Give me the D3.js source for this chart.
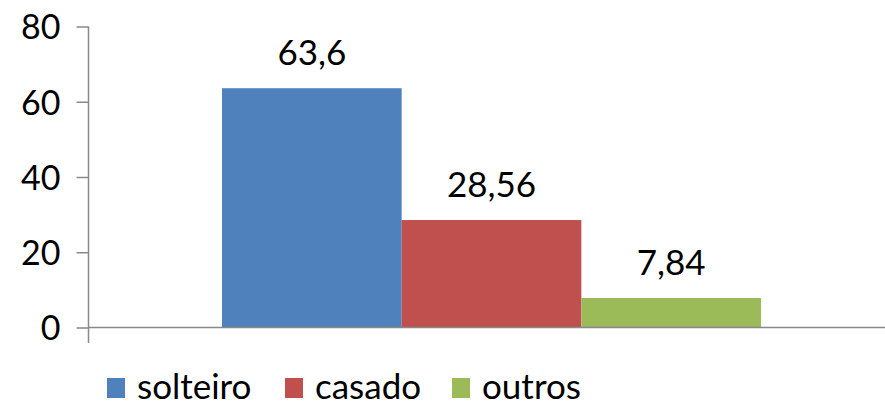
<!DOCTYPE html>
<html>
<head>
<meta charset="utf-8">
<script src="https://cdn.jsdelivr.net/npm/d3@7"></script>
<style>
  body { margin: 0; background: #fff; }
  text { font-family: Lato, "Open Sans", sans-serif; fill: #000; }
</style>
</head>
<body>
<svg id="chart" width="885" height="405"></svg>
<script>
// data
var categories = ['solteiro', 'casado', 'outros']
var values = [63.6, 28.56, 7.84]
var valueLabels = ['63,6', '28,56', '7,84']
var colors = ['#4f81bd', '#c0504d', '#9bbb59']
var yTicks = [0, 20, 40, 60, 80]

var svg = d3.select('#chart')

var x = d3.scaleBand().domain(categories).range([222, 761]).padding(0)
var y = d3.scaleLinear().domain([0, 80]).range([327.5, 26.5])

// y axis
var yAxis = d3.axisLeft(y).tickValues(yTicks).tickSize(12).tickPadding(16)
var gy = svg.append('g').attr('transform', 'translate(88.5,0)').call(yAxis)
gy.select('.domain').remove()
gy.selectAll('line').attr('stroke', '#898989').attr('stroke-width', 1.5)
gy.selectAll('text').style('font-size', '34px').attr('dy', '0.36em')

svg.append('line')
    .attr('x1', 88.5).attr('x2', 88.5)
    .attr('y1', y(80)).attr('y2', 343)
    .attr('stroke', '#898989').attr('stroke-width', 1.5)

// bars
svg.selectAll('rect.bar').data(values).enter().append('rect')
    .attr('class', 'bar')
    .attr('x', (d, i) => x(categories[i]))
    .attr('width', x.bandwidth())
    .attr('y', d => y(d))
    .attr('height', d => y(0) - y(d))
    .attr('fill', (d, i) => colors[i])

// x axis line
svg.append('line')
    .attr('x1', 88).attr('x2', 885)
    .attr('y1', y(0)).attr('y2', y(0))
    .attr('stroke', '#898989').attr('stroke-width', 1.5)

// value labels
svg.selectAll('text.val').data(values).enter().append('text')
    .attr('class', 'val')
    .attr('x', (d, i) => x(categories[i]) + x.bandwidth() / 2)
    .attr('y', d => y(d) - 23)
    .attr('text-anchor', 'middle')
    .style('font-size', '35px')
    .text((d, i) => valueLabels[i])

// legend
var legendX = [107, 285, 452]
var lg = svg.selectAll('g.leg').data(categories).enter().append('g')
    .attr('class', 'leg')
    .attr('transform', (d, i) => 'translate(' + legendX[i] + ',0)')
lg.append('rect')
    .attr('x', 0).attr('y', 378).attr('width', 18).attr('height', 20)
    .attr('fill', (d, i) => colors[i])
lg.append('text')
    .attr('x', 30).attr('y', 399)
    .style('font-size', '35px')
    .text(d => d)
</script>
</body>
</html>
